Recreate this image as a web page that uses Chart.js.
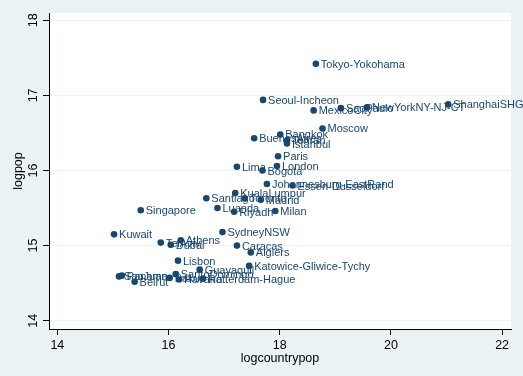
<!DOCTYPE html>
<html>
<head>
<meta charset="utf-8">
<title>logpop vs logcountrypop</title>
<style>
  html, body { margin: 0; padding: 0; background: #eaf2f3; }
  #wrap { width: 523px; height: 376px; }
</style>
</head>
<body>
<div id="wrap"><canvas id="chart" width="523" height="376"></canvas></div>
<script src="https://cdn.jsdelivr.net/npm/chart.js@4/dist/chart.umd.min.js"></script>
<script>
// city labels and coordinates
const cities = [
  'Tokyo-Yokohama', 'Seoul-Incheon', 'MexicoCity', 'SaoPaulo', 'NewYorkNY-NJ-CT', 'ShanghaiSHG',
  'Moscow', 'Bangkok', 'BuenosAires', 'Tehran', 'Istanbul', 'Paris', 'London', 'Lima', 'Bogota',
  'Johannesburg-EastRand', 'Essen-Dusseldorf', 'KualaLumpur', 'Santiago', 'Toronto', 'Madrid',
  'Luanda', 'Riyadh', 'Milan', 'Singapore', 'Kuwait', 'SydneyNSW', 'TelAviv', 'Athens', 'Dubai',
  'Caracas', 'Algiers', 'Lisbon', 'Guayaquil', 'Katowice-Gliwice-Tychy', 'SantoDomingo',
  'SanJuan', 'Panama', 'Beirut', 'Baku', 'Havana', 'Rotterdam-Hague'
];
const logcountrypop = [
  18.65, 17.70, 18.61, 19.10, 19.57, 21.03,
  18.77, 18.01, 17.54, 18.13, 18.13, 17.97, 17.95, 17.23, 17.69,
  17.77, 18.23, 17.20, 16.68, 17.37, 17.66,
  16.88, 17.18, 17.92, 15.50, 15.02, 16.97, 15.86, 16.22, 16.04,
  17.23, 17.48, 16.17, 16.56, 17.45, 16.13,
  15.11, 15.16, 15.39, 16.02, 16.19, 16.62
];
const logpop = [
  17.42, 16.94, 16.80, 16.83, 16.84, 16.88,
  16.56, 16.48, 16.43, 16.40, 16.36, 16.19, 16.06, 16.05, 16.00,
  15.82, 15.80, 15.70, 15.63, 15.63, 15.61,
  15.50, 15.45, 15.46, 15.47, 15.15, 15.18, 15.04, 15.07, 15.01,
  15.00, 14.91, 14.80, 14.68, 14.73, 14.62,
  14.59, 14.60, 14.52, 14.57, 14.55, 14.56
];
const xTicks = [14, 16, 18, 20, 22];
const yTicks = [14, 15, 16, 17, 18];

const navy = '#1a476f';
const bg = '#eaf2f3';
const font = '"Liberation Sans", Arial, sans-serif';

const points = logcountrypop.map((x, i) => ({ x: x, y: logpop[i] }));

const backdrop = {
  id: 'backdrop',
  beforeDraw(chart) {
    const c = chart.ctx, a = chart.chartArea;
    c.save();
    c.fillStyle = bg;
    c.fillRect(0, 0, chart.width, chart.height);
    c.fillStyle = '#ffffff';
    c.fillRect(a.left, a.top, a.right - a.left, a.bottom - a.top);
    c.restore();
  }
};

// marker labels at 3 o'clock, like stata's mlabel()
const pointLabels = {
  id: 'pointLabels',
  afterDatasetsDraw(chart) {
    const c = chart.ctx;
    const meta = chart.getDatasetMeta(0);
    c.save();
    c.font = '11px ' + font;
    c.fillStyle = navy;
    c.textAlign = 'left';
    c.textBaseline = 'middle';
    meta.data.forEach((el, i) => {
      c.fillText(cities[i], el.x + 5, el.y + 1);
    });
    c.restore();
  }
};

new Chart(document.getElementById('chart'), {
  type: 'scatter',
  data: {
    datasets: [{
      data: points,
      backgroundColor: navy,
      borderColor: navy,
      borderWidth: 0,
      pointRadius: 3.3,
      pointHoverRadius: 3.3
    }]
  },
  options: {
    responsive: false,
    animation: false,
    events: [],
    layout: { padding: { top: 13, right: 12, left: 0, bottom: 0 } },
    plugins: { legend: { display: false }, tooltip: { enabled: false } },
    scales: {
      x: {
        type: 'linear',
        min: 13.85,
        max: 22.16,
        afterBuildTicks: s => { s.ticks = xTicks.map(v => ({ value: v })); },
        afterFit: s => { s.height = 47; },
        border: { display: true, color: '#000', width: 1 },
        grid: { drawOnChartArea: false, drawTicks: true, tickLength: 6, color: '#000' },
        ticks: { color: '#000', padding: 3, maxRotation: 0, font: { family: font, size: 12.5 } },
        title: { display: true, text: 'logcountrypop', color: '#000', padding: { top: 0, bottom: 10 }, font: { family: font, size: 12.5 } }
      },
      y: {
        type: 'linear',
        min: 13.89,
        max: 18.097,
        afterBuildTicks: s => { s.ticks = yTicks.map(v => ({ value: v })); },
        afterFit: s => { s.width = 49; },
        border: { display: true, color: '#000', width: 1 },
        grid: { drawOnChartArea: true, drawTicks: true, tickLength: 6, color: bg, tickColor: '#000' },
        ticks: { color: '#000', padding: 3, minRotation: 90, maxRotation: 90, crossAlign: 'center', font: { family: font, size: 12.5 } },
        title: { display: true, text: 'logpop', color: '#000', padding: { top: 11, bottom: 0 }, font: { family: font, size: 12.5 } }
      }
    }
  },
  plugins: [backdrop, pointLabels]
});
</script>
</body>
</html>
